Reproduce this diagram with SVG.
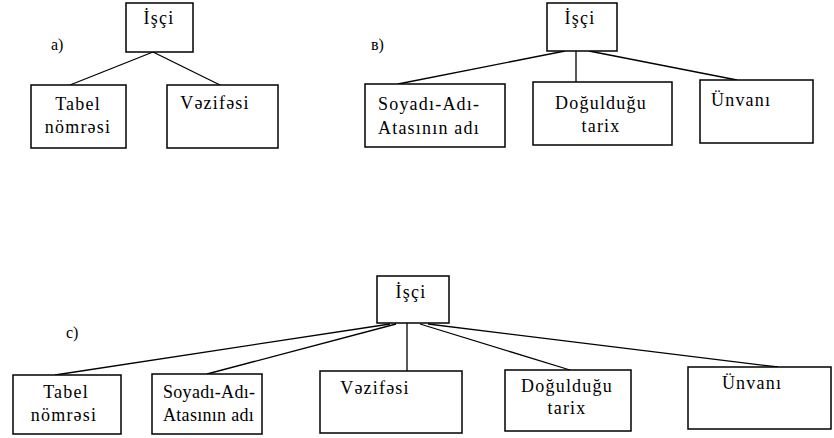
<svg xmlns="http://www.w3.org/2000/svg" width="834" height="438" viewBox="0 0 834 438">
<style>
.box{fill:#fff;stroke:#000;stroke-width:1.5}
.t{font-family:"Liberation Serif","Times New Roman",serif;font-size:18px;letter-spacing:1.2px;fill:#000}
.n{letter-spacing:0.3px}
.m{text-anchor:middle}
.lbl{font-family:"Liberation Serif","Times New Roman",serif;font-size:16px;fill:#000}
.c line{stroke:#000;stroke-width:1.3}
</style>
<rect width="834" height="438" fill="#fff"/>
<g class="c" id="connectors">
<line x1="153" y1="52" x2="70" y2="85"/>
<line x1="153" y1="52" x2="220" y2="85"/>
<line x1="565" y1="51" x2="398" y2="84"/>
<line x1="576" y1="51" x2="576" y2="82"/>
<line x1="589" y1="51" x2="737" y2="80"/>
<line x1="390" y1="324" x2="55" y2="375"/>
<line x1="396" y1="324" x2="207" y2="374"/>
<line x1="407" y1="323" x2="407" y2="371"/>
<line x1="420" y1="324" x2="570" y2="370"/>
<line x1="428" y1="324" x2="778" y2="367"/>
</g>
<text class="lbl" x="51" y="50">a)</text>
<text class="lbl" x="371" y="50">в)</text>
<text class="lbl" x="66" y="338">c)</text>
<g id="a_isci"><rect class="box" x="126" y="3" width="67" height="49"/><text class="t m" x="159" y="24">İşçi</text></g>
<g id="a_tabel"><rect class="box" x="31" y="85" width="95" height="63"/><text class="t m" x="78" y="110">Tabel</text><text class="t m" x="78" y="133">nömrəsi</text></g>
<g id="a_vezife"><rect class="box" x="167" y="85" width="111" height="63"/><text class="t m" x="215" y="109">Vəzifəsi</text></g>
<g id="b_isci"><rect class="box" x="547" y="3" width="70" height="48"/><text class="t m" x="580" y="24">İşçi</text></g>
<g id="b_soyadi"><rect class="box" x="365" y="84" width="140" height="63"/><text class="t" x="378" y="110">Soyadı-Adı-</text><text class="t" x="378" y="134">Atasının adı</text></g>
<g id="b_dogul"><rect class="box" x="533" y="82" width="139" height="63"/><text class="t m" x="601" y="109">Doğulduğu</text><text class="t m" x="601" y="132">tarix</text></g>
<g id="b_unvan"><rect class="box" x="700" y="80" width="113" height="63"/><text class="t" x="711" y="106">Ünvanı</text></g>
<g id="c_isci"><rect class="box" x="377" y="276" width="72" height="47"/><text class="t m" x="411" y="298">İşçi</text></g>
<g id="c_tabel"><rect class="box" x="13" y="375" width="108" height="59"/><text class="t m" x="66" y="398">Tabel</text><text class="t m" x="64" y="421">nömrəsi</text></g>
<g id="c_soyadi"><rect class="box" x="152" y="374" width="110" height="60"/><text class="t n" x="163" y="398">Soyadı-Adı-</text><text class="t n" x="163" y="421">Atasının adı</text></g>
<g id="c_vezife"><rect class="box" x="320" y="371" width="142" height="62"/><text class="t m" x="375" y="394">Vəzifəsi</text></g>
<g id="c_dogul"><rect class="box" x="505" y="370" width="126" height="61"/><text class="t m" x="567" y="392">Doğulduğu</text><text class="t m" x="567" y="414">tarix</text></g>
<g id="c_unvan"><rect class="box" x="688" y="367" width="143" height="62"/><text class="t m" x="752" y="389">Ünvanı</text></g>
</svg>
